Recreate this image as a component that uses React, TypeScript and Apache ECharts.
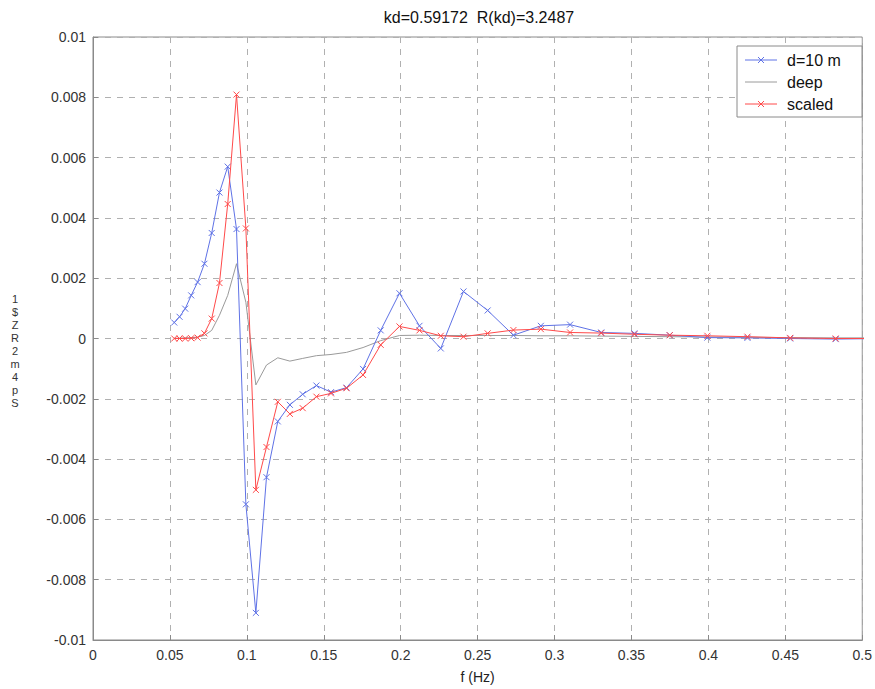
import React, { useEffect, useRef } from "react";
import * as echarts from "echarts";

const freqs = [
  0.0528, 0.05625, 0.05992, 0.06383, 0.068, 0.07243, 0.07716, 0.0822, 0.08756,
  0.09328, 0.09937, 0.10585, 0.11276, 0.12012, 0.12796, 0.13631, 0.14521,
  0.15469, 0.16478, 0.17554, 0.18699, 0.1992, 0.2122, 0.22605, 0.2408, 0.25652,
  0.27326, 0.29109, 0.31009, 0.33033, 0.35189, 0.37485, 0.39932, 0.42538,
  0.45314, 0.48271, 0.5142,
];

const d10m = [
  0.00053, 0.00072, 0.00099, 0.00143, 0.00187, 0.00248, 0.0035, 0.00484, 0.0057,
  0.00363, -0.0055, -0.0091, -0.0046, -0.00275, -0.0022, -0.00185, -0.00156,
  -0.00178, -0.00163, -0.00101, 0.00027, 0.0015, 0.00042, -0.00033, 0.00156,
  0.00093, 0.00011, 0.00042, 0.00046, 0.0002, 0.00017, 0.00011, 0.00003, 0.00002,
  0.0, -0.00002, 0.0,
];

const deep = [
  0.00001, 0.00001, 0.00002, 0.00003, 0.00005, 0.0001, 0.00027, 0.00077, 0.00143,
  0.00248, 0.0012, -0.00154, -0.00088, -0.00064, -0.00075, -0.00066, -0.00057,
  -0.00053, -0.00046, -0.0003, -0.00007, 0.0001, 0.00011, 0.0001, 0.0001, 0.0001,
  0.0001, 0.00009, 0.00009, 0.00008, 0.00007, 0.00006, 0.00005, 0.00004, 0.00003,
  0.00002, 0.00002,
];

const scaled = [
  0.0, 0.0, 0.0, 0.00001, 0.00003, 0.00017, 0.00066, 0.00184, 0.00446, 0.00809,
  0.00365, -0.00502, -0.0036, -0.0021, -0.0025, -0.00231, -0.00193, -0.00182,
  -0.00165, -0.00121, -0.00021, 0.0004, 0.00027, 0.00009, 0.00006, 0.00017,
  0.00028, 0.00031, 0.0002, 0.00018, 0.00014, 0.00011, 0.00009, 0.00006, 0.00002,
  0.0, 0.0,
];

const titleText = "kd=0.59172  R(kd)=3.2487";
const xName = "f (Hz)";
const seriesNames = ["d=10 m", "deep", "scaled"];
const yLabelText = "1\n$\nZ\nR\n2\nm\n4\np\nS";

const FONT = "'Liberation Sans', Arial, Helvetica, sans-serif";
const BLUE = "#5f72e6";
const RED = "#ff4a4a";
const GRAY = "#9a9a9a";
const XMARK = "path://M0,0L10,10M10,0L0,10";

export default function App() {
  const ref = useRef<HTMLDivElement>(null);
  useEffect(() => {
    document.body.style.margin = "0";
    const chart = echarts.init(ref.current!, null, { renderer: "svg" });
    const pair = (vals: number[]) => freqs.map((f, i) => [f, vals[i]]);
    const colors = [BLUE, GRAY, RED];
    const marked = [true, false, true];
    const rowY = [60, 82, 104];
    const legendEls: any[] = [
      {
        type: "rect",
        shape: { x: 737, y: 46, width: 125, height: 71 },
        style: { fill: "#ffffff", stroke: "#8a8a8a", lineWidth: 1 },
        z: 100,
      },
    ];
    seriesNames.forEach((n, i) => {
      const cy = rowY[i];
      legendEls.push({
        type: "line",
        shape: { x1: 745, y1: cy, x2: 777, y2: cy },
        style: { stroke: colors[i], lineWidth: 1 },
        z: 101,
      });
      if (marked[i]) {
        legendEls.push(
          {
            type: "line",
            shape: { x1: 758, y1: cy - 3, x2: 764, y2: cy + 3 },
            style: { stroke: colors[i], lineWidth: 1 },
            z: 101,
          },
          {
            type: "line",
            shape: { x1: 764, y1: cy - 3, x2: 758, y2: cy + 3 },
            style: { stroke: colors[i], lineWidth: 1 },
            z: 101,
          }
        );
      }
      legendEls.push({
        type: "text",
        x: 787,
        y: cy,
        style: {
          text: n,
          fill: "#111",
          font: `16px ${FONT}`,
          textAlign: "left",
          textVerticalAlign: "middle",
        },
        z: 101,
      });
    });
    chart.setOption({
      animation: false,
      backgroundColor: "#ffffff",
      textStyle: { fontFamily: FONT },
      grid: {
        left: 93,
        right: 10,
        top: 37,
        bottom: 46,
        show: true,
        borderColor: "#8a8a8a",
        borderWidth: 1,
      },
      graphic: [
        {
          type: "text",
          x: 479,
          y: 17,
          style: {
            text: titleText,
            fill: "#111",
            font: `16px ${FONT}`,
            textAlign: "center",
            textVerticalAlign: "middle",
          },
        },
        {
          type: "text",
          x: 15,
          y: 292,
          style: {
            text: yLabelText,
            fill: "#333",
            font: `11px ${FONT}`,
            lineHeight: 13,
            textAlign: "center",
            textVerticalAlign: "top",
          },
        },
        ...legendEls,
      ],
      xAxis: {
        type: "value",
        min: 0,
        max: 0.5,
        interval: 0.05,
        name: xName,
        nameLocation: "middle",
        nameGap: 30,
        nameTextStyle: { fontSize: 14, color: "#222", fontFamily: FONT },
        axisLine: { show: true, onZero: false, lineStyle: { color: "#8a8a8a" } },
        axisTick: { show: true, inside: true, length: 5, lineStyle: { color: "#8a8a8a" } },
        axisLabel: { fontSize: 14, color: "#333", margin: 8, fontFamily: FONT },
        splitLine: {
          show: true,
          lineStyle: { color: "#b0b0b0", type: [6, 6], width: 1 },
        },
      },
      yAxis: {
        type: "value",
        min: -0.01,
        max: 0.01,
        interval: 0.002,
        axisLine: { show: true, onZero: false, lineStyle: { color: "#8a8a8a" } },
        axisTick: { show: true, inside: true, length: 5, lineStyle: { color: "#8a8a8a" } },
        axisLabel: { fontSize: 14, color: "#333", margin: 7, fontFamily: FONT },
        splitLine: {
          show: true,
          lineStyle: { color: "#b0b0b0", type: [6, 6], width: 1 },
        },
      },
      series: [
        {
          name: seriesNames[0],
          type: "line",
          data: pair(d10m),
          symbol: XMARK,
          symbolSize: 6,
          showSymbol: true,
          lineStyle: { color: BLUE, width: 1 },
          itemStyle: { color: BLUE, borderColor: BLUE, borderWidth: 1 },
          z: 3,
        },
        {
          name: seriesNames[1],
          type: "line",
          data: pair(deep),
          symbol: "none",
          showSymbol: false,
          lineStyle: { color: GRAY, width: 1 },
          itemStyle: { color: GRAY },
          z: 2,
        },
        {
          name: seriesNames[2],
          type: "line",
          data: pair(scaled),
          symbol: XMARK,
          symbolSize: 6,
          showSymbol: true,
          lineStyle: { color: RED, width: 1 },
          itemStyle: { color: RED, borderColor: RED, borderWidth: 1 },
          z: 4,
        },
      ],
    });
    return () => chart.dispose();
  }, []);
  return (
    <div
      ref={ref}
      style={{ position: "fixed", left: 0, top: 0, width: 875, height: 689 }}
    />
  );
}
